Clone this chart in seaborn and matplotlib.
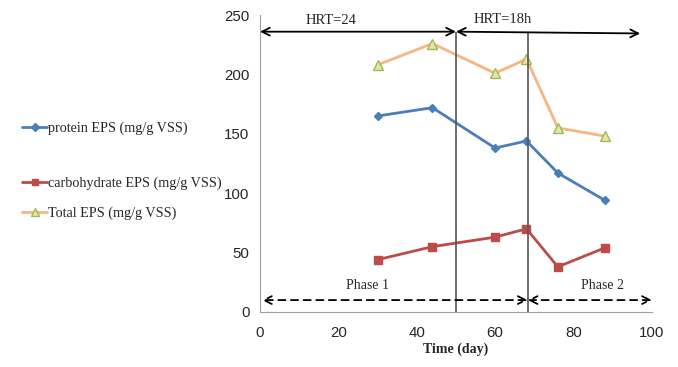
import matplotlib
matplotlib.use("Agg")
import matplotlib.pyplot as plt
import seaborn as sns
import pandas as pd
from matplotlib.lines import Line2D

# data
days = [30, 44, 60, 68, 76, 88]
protein = [165, 172, 138, 144, 117, 94]
carbohydrate = [44, 55, 63, 70, 38, 54]
total = [208, 226, 201, 213, 155, 148]

labels = ["protein EPS (mg/g VSS)", "carbohydrate EPS (mg/g VSS)", "Total EPS (mg/g VSS)"]
x_ticks = [0, 20, 40, 60, 80, 100]
y_ticks = [0, 50, 100, 150, 200, 250]

sns.set_style("white")
plt.rcParams["font.family"] = ["Liberation Sans", "DejaVu Sans"]
serif = ["Liberation Serif", "DejaVu Serif"]

df = pd.DataFrame({
    "day": days * 3,
    "value": protein + carbohydrate + total,
    "series": sum([[l] * len(days) for l in labels], []),
})

fig = plt.figure(figsize=(6.78, 3.67), dpi=100)
ax = fig.add_axes([0.3835, 0.15, 0.578, 0.809])

styles = [
    dict(color="#4A7EBB", marker="D", markersize=4.5, mfc="#4A7EBB", mec="#4A7EBB"),
    dict(color="#BE4B48", marker="s", markersize=6, mfc="#BE4B48", mec="#BE4B48"),
    dict(color="#F9B57F", marker="^", markersize=7, mfc="#E9E4A6", mec="#9BBB59"),
]
handles = []
for lab, st in zip(labels, styles):
    sub = df[df["series"] == lab]
    sns.lineplot(data=sub, x="day", y="value", ax=ax, color=st["color"], lw=2,
                 marker=st["marker"], markersize=st["markersize"],
                 markerfacecolor=st["mfc"], markeredgecolor=st["mec"],
                 markeredgewidth=1, legend=False)
    handles.append(Line2D([], [], color=st["color"], lw=2, marker=st["marker"],
                          markersize=st["markersize"] * 0.8, markerfacecolor=st["mfc"],
                          markeredgecolor=st["mec"]))

ax.set_xlim(0, 100)
ax.set_ylim(0, 250)
ax.set_xticks(x_ticks)
ax.set_yticks(y_ticks)
ax.tick_params(axis="both", labelsize=10.8, length=4, color="#999999", direction="out")
ax.tick_params(axis="x", pad=6)
ax.set_xlabel("Time (day)", family=serif, fontweight="bold", fontsize=10, labelpad=2)
ax.set_ylabel("")
sns.despine(ax=ax)
for s in ["left", "bottom"]:
    ax.spines[s].set_color("#A0A0A0")

# phase separators
ax.vlines(50, 0, 236, color="#555555", lw=1.2)
ax.vlines(68.3, 0, 235, color="#555555", lw=1.2)

# HRT arrows
arr = dict(arrowstyle="<->", color="black", lw=1.3, mutation_scale=14, shrinkA=0, shrinkB=0)
ax.annotate("", xy=(0, 236), xytext=(50, 236), arrowprops=arr, annotation_clip=False)
ax.annotate("", xy=(50, 236), xytext=(97, 234.5), arrowprops=arr, annotation_clip=False)
ax.text(18, 245, "HRT=24", family=serif, fontsize=10.5, ha="center", va="center")
ax.text(62, 246, "HRT=18h", family=serif, fontsize=10.5, ha="center", va="center")

# phase arrows
darr = dict(arrowstyle="<->", color="black", lw=1.3, ls=(0, (4, 3)), mutation_scale=14,
            shrinkA=0, shrinkB=0)
ax.annotate("", xy=(0.5, 10), xytext=(68.3, 10), arrowprops=darr)
ax.annotate("", xy=(68.3, 10), xytext=(100, 10), arrowprops=darr, annotation_clip=False)
ax.text(27.5, 22, "Phase 1", family=serif, fontsize=10, ha="center", va="center")
ax.text(87.5, 22, "Phase 2", family=serif, fontsize=10, ha="center", va="center")

# legend entries placed like the reference
for h, lab, y in zip(handles, labels, [0.651, 0.501, 0.418]):
    fig.legend([h], [lab], loc="center left", bbox_to_anchor=(0.022, y), frameon=False,
               handlelength=1.8, handletextpad=0.05, borderpad=0,
               prop={"family": serif, "size": 10.2})

fig.savefig("out.png", dpi=100)
